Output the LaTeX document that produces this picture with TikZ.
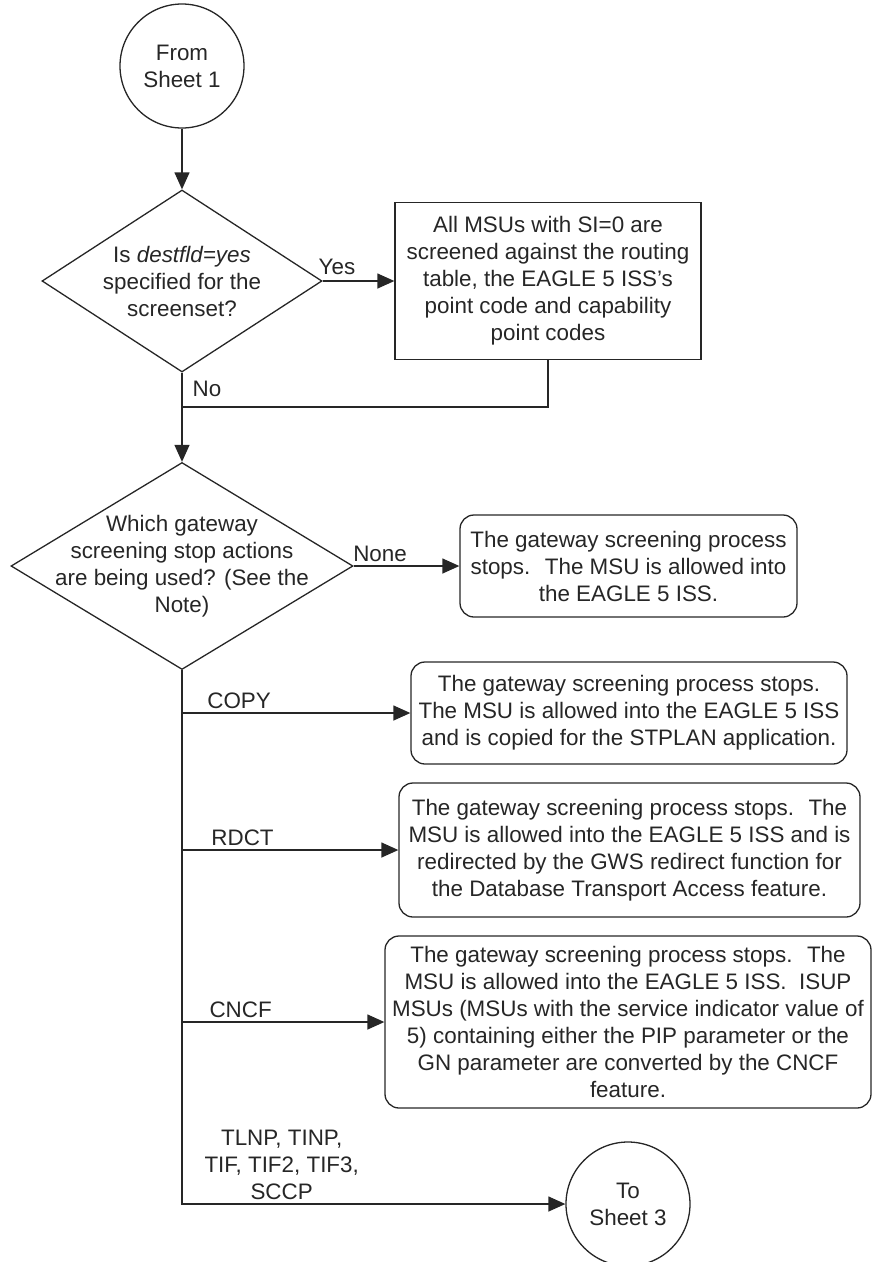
\documentclass[tikz,border=0pt]{standalone}
\usepackage{fontspec}
\setmainfont{Liberation Sans}
\usetikzlibrary{shapes.geometric,arrows.meta}

\begin{document}
\begin{tikzpicture}[x=1pt, y=-1pt, line width=1.3pt, color=black!85,
  every node/.style={font=\fontsize{22.4}{27}\selectfont},
  sheet/.style={draw, circle, minimum size=124pt, inner sep=0pt, align=center},
  ask/.style={draw, diamond, inner sep=0pt},
  act/.style={draw, rectangle, inner sep=2pt, align=center},
  stopbox/.style={act, rounded corners=14pt},
  flow/.style={-{Triangle[length=17pt, width=15pt]}},
  tag/.style={inner sep=4pt}]
\useasboundingbox (0,0) rectangle (872,1262);

\node[sheet] (from1) at (182,66) {From\\Sheet 1};
\node[ask, minimum width=280pt, minimum height=182pt,
  label={[align=center]center:Is \textit{destfld=yes}\\specified for the\\screenset?}] (q1) at (182,281) {};
\node[act, minimum width=306pt, minimum height=157pt] (chk) at (548,281) {All MSUs with SI=0 are\\screened against the routing\\table, the EAGLE 5 ISS's\\point code and capability\\point codes};
\coordinate (join) at (182,407);
\node[ask, minimum width=342pt, minimum height=207pt,
  label={[align=center]center:Which gateway\\screening stop actions\\are being used? (See the\\Note)}] (q2) at (182,566) {};
\node[stopbox, minimum width=337pt, minimum height=102pt] (none) at (628.5,566) {The gateway screening process\\stops.~ The MSU is allowed into\\the EAGLE 5 ISS.};
\node[stopbox, minimum width=436pt, minimum height=102pt] (copy) at (629,713) {The gateway screening process stops.\\The MSU is allowed into the EAGLE 5 ISS\\and is copied for the STPLAN application.};
\node[stopbox, minimum width=461pt, minimum height=134pt] (rdct) at (629.5,850) {The gateway screening process stops.~ The\\MSU is allowed into the EAGLE 5 ISS and is\\redirected by the GWS redirect function for\\the Database Transport Access feature.};
\node[stopbox, minimum width=486pt, minimum height=172pt] (cncf) at (628,1022) {The gateway screening process stops.~ The\\MSU is allowed into the EAGLE 5 ISS.~ ISUP\\MSUs (MSUs with the service indicator value of\\5) containing either the PIP parameter or the\\GN parameter are converted by the CNCF\\feature.};
\node[sheet] (to3) at (628,1204) {To\\Sheet 3};

\draw[flow] (from1) -- (q1);
\draw[flow] (q1.east) -- node[tag, pos=0.2, above, yshift=2pt] {Yes} (chk.west);
\draw[flow] (q1.south) -- node[tag, pos=0.18, right, xshift=6pt] {No} (q2.north);
\draw (chk.south) |- (join);
\draw[flow] (q2.east) -- node[tag, pos=0.25, above] {None} (none.west);
\draw[flow] (q2.south |- copy.west) -- node[tag, pos=0.25, above] {COPY} (copy.west);
\draw[flow] (q2.south |- rdct.west) -- node[tag, pos=0.28, above] {RDCT} (rdct.west);
\draw[flow] (q2.south |- cncf.west) -- node[tag, pos=0.29, above] {CNCF} (cncf.west);
\draw[flow] (q2.south) |- node[tag, pos=0.63, above, align=center] {TLNP, TINP,\\TIF, TIF2, TIF3,\\SCCP} (to3.west);
\end{tikzpicture}
\end{document}
